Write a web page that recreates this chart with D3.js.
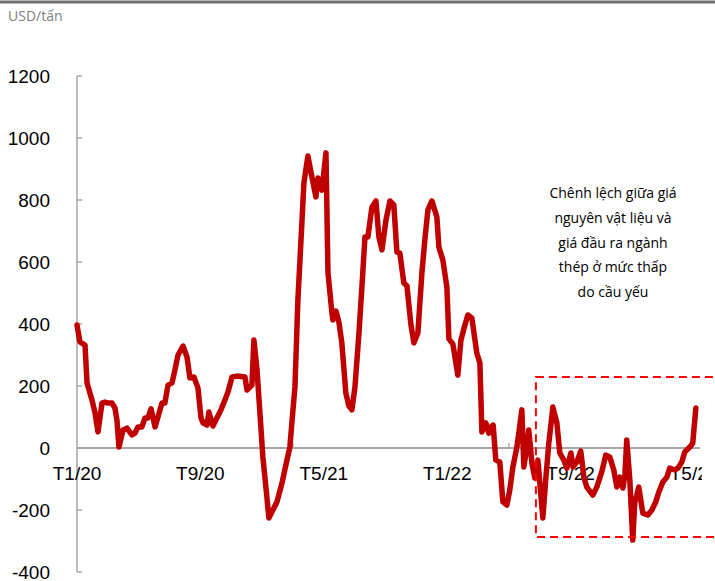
<!DOCTYPE html>
<html>
<head>
<meta charset="utf-8">
<script src="https://cdn.jsdelivr.net/npm/d3@7"></script>
<style>
  html, body { margin: 0; padding: 0; background: #fff; }
  svg { display: block; }
</style>
</head>
<body>
<svg id="chart" width="715" height="581"></svg>
<script>
// months since Jan 2020
const months = [
  0, 0.19, 0.52, 0.65, 0.97, 1.17, 1.36, 1.62, 1.81, 2.01, 2.27, 2.46, 2.59, 2.72, 2.98, 3.24,
  3.56, 3.76, 3.95, 4.21, 4.41, 4.6, 4.8, 5.06, 5.25, 5.51, 5.7, 5.9, 6.16, 6.35, 6.55, 6.87,
  7.13, 7.32, 7.58, 7.84, 8.04, 8.17, 8.43, 8.55, 8.81, 9.07, 9.33, 9.59, 9.79, 10.05, 10.37,
  10.89, 11.02, 11.34, 11.47, 11.67, 11.86, 12.05, 12.31, 12.44, 12.7, 12.96, 13.29, 13.61, 13.8,
  13.93, 14.13, 14.32, 14.58, 14.71, 14.97, 15.23, 15.49, 15.62, 15.88, 16.14, 16.27, 16.53, 16.59,
  16.79, 16.98, 17.17, 17.43, 17.63, 17.82, 18.02, 18.28, 18.47, 18.67, 18.86, 19.12, 19.38, 19.57,
  19.77, 20.03, 20.29, 20.54, 20.74, 20.93, 21.19, 21.39, 21.65, 21.84, 22.1, 22.36, 22.55, 22.75,
  23.01, 23.33, 23.46, 23.72, 23.98, 24.11, 24.37, 24.69, 24.89, 25.15, 25.34, 25.6, 25.92, 26.12,
  26.25, 26.51, 26.7, 26.9, 26.98, 27.15, 27.41, 27.61, 27.87, 28.06, 28.26, 28.52, 28.84, 28.97,
  29.16, 29.29, 29.49, 29.68, 29.88, 30.2, 30.4, 30.59, 30.85, 31.11, 31.3, 31.56, 31.76, 32.02,
  32.15, 32.4, 32.66, 32.86, 33.05, 33.44, 33.7, 34.02, 34.28, 34.54, 34.8, 35.0, 35.19, 35.39,
  35.52, 35.64, 35.84, 36.03, 36.16, 36.42, 36.68, 37.01, 37.27, 37.52, 37.72, 37.98, 38.24, 38.43,
  38.76, 38.95, 39.21, 39.4, 39.73, 39.92, 40.12
];
// spread, USD/tấn
const spread = [
  397, 342, 332, 210, 155, 113, 52, 145, 148, 145, 145, 129, 90, 3, 58, 64,
  42, 48, 68, 68, 97, 97, 126, 68, 100, 145, 145, 203, 210, 252, 300, 329,
  294, 226, 229, 194, 97, 81, 74, 116, 71, 97, 123, 155, 181, 229, 232,
  229, 187, 203, 348, 252, 113, -29, -158, -226, -200, -174, -113, -39, 3,
  81, 197, 477, 726, 855, 942, 874, 810, 871, 832, 952, 565, 435, 413,
  442, 406, 339, 177, 135, 123, 197, 371, 519, 681, 681, 777, 797, 681,
  639, 735, 797, 784, 632, 629, 532, 523, 397, 339, 371, 565, 671, 768,
  797, 745, 648, 606, 519, 352, 335, 235, 348, 397, 429, 419, 306, 274,
  52, 81, 48, 71, 74, -39, -45, -174, -184, -135, -61, 3, 123, -61,
  0, 58, -48, -97, -39, -226, -94, 16, 132, 81, -16, -39, -65, -16,
  -61, -45, -10, -94, -126, -152, -126, -77, -23, -29, -71, -126, -94, -129,
  -87, 26, -103, -297, -177, -126, -210, -216, -200, -174, -142, -110, -94, -65,
  -71, -65, -45, -13, 3, 16, 129
];
const yTicks = [-400, -200, 0, 200, 400, 600, 800, 1000, 1200];
const xTickLabels = ["T1/20", "T9/20", "T5/21", "T1/22", "T9/22", "T5/23"];
const xTickMonths = [0, 8, 16, 24, 32, 40];
const xMarkMonths = [14, 28];
const unitLabel = "USD/tấn";
const noteLines = ["Chênh lệch giữa giá", "nguyên vật liệu và", "giá đầu ra ngành", "thép ở mức thấp", "do cầu yếu"];
const boxFrom = 29.75;  // months
const boxRange = [-287, 229]; // values

const svg = d3.select("#chart");
const x = d3.scaleLinear().domain([0, 40]).range([77, 694]);
const y = d3.scaleLinear().domain([-400, 1200]).range([572, 76]);
const axisColor = "#a6a6a6";

// top border
svg.append("line")
  .attr("x1", 0).attr("x2", 715).attr("y1", 2).attr("y2", 2)
  .attr("stroke", "#6f6f6f").attr("stroke-width", 3);

svg.append("text")
  .attr("x", 8).attr("y", 21)
  .style("font-family", "Open Sans").style("font-size", "14px")
  .attr("fill", "#7f7f7f")
  .text(unitLabel);

// y axis
const gy = svg.append("g");
gy.append("line")
  .attr("x1", x(0)).attr("x2", x(0)).attr("y1", y(1200)).attr("y2", y(-400))
  .attr("stroke", axisColor).attr("stroke-width", 1.5);
gy.selectAll("line.tick").data(yTicks).enter().append("line")
  .attr("class", "tick")
  .attr("x1", x(0)).attr("x2", x(0) + 5)
  .attr("y1", d => y(d)).attr("y2", d => y(d))
  .attr("stroke", axisColor).attr("stroke-width", 1.5);
gy.selectAll("text").data(yTicks).enter().append("text")
  .attr("x", 50).attr("y", d => y(d))
  .attr("dy", "0.36em")
  .attr("text-anchor", "end")
  .style("font-family", "Liberation Sans, Arial").style("font-size", "19px")
  .attr("fill", "#000")
  .text(d => d);

// x axis at zero
const gx = svg.append("g");
gx.append("line")
  .attr("x1", x(0)).attr("x2", 700).attr("y1", y(0)).attr("y2", y(0))
  .attr("stroke", axisColor).attr("stroke-width", 2);
gx.selectAll("line.tick").data(xMarkMonths).enter().append("line")
  .attr("class", "tick")
  .attr("x1", d => x(d)).attr("x2", d => x(d))
  .attr("y1", y(0)).attr("y2", y(0) - 5)
  .attr("stroke", axisColor).attr("stroke-width", 1.5);

svg.append("clipPath").attr("id", "lblclip")
  .append("rect").attr("x", 0).attr("y", 0).attr("width", 702).attr("height", 581);
gx.append("g").attr("clip-path", "url(#lblclip)")
  .selectAll("text").data(xTickMonths).enter().append("text")
  .attr("x", d => x(d)).attr("y", 480)
  .attr("text-anchor", "middle")
  .style("font-family", "Liberation Sans, Arial").style("font-size", "19px")
  .attr("fill", "#000")
  .text((d, i) => xTickLabels[i]);

// series line
const pts = months.map((m, i) => [m, spread[i]]);
svg.append("path")
  .datum(pts)
  .attr("fill", "none")
  .attr("stroke", "#c00000")
  .attr("stroke-width", 5.5)
  .attr("stroke-linejoin", "round")
  .attr("stroke-linecap", "round")
  .attr("d", d3.line().x(d => x(d[0])).y(d => y(d[1])));

// dashed highlight box
svg.append("rect")
  .attr("x", x(boxFrom)).attr("y", y(boxRange[1]))
  .attr("width", 740 - x(boxFrom))
  .attr("height", y(boxRange[0]) - y(boxRange[1]))
  .attr("fill", "none")
  .attr("stroke", "#ff0000").attr("stroke-width", 2)
  .attr("stroke-dasharray", "8,5");

// annotation
svg.append("g").selectAll("text").data(noteLines).enter().append("text")
  .attr("x", 613).attr("y", (d, i) => 198 + i * 24.8)
  .attr("text-anchor", "middle")
  .style("font-family", "Open Sans").style("font-size", "14px")
  .attr("fill", "#000")
  .text(d => d);
</script>
</body>
</html>
